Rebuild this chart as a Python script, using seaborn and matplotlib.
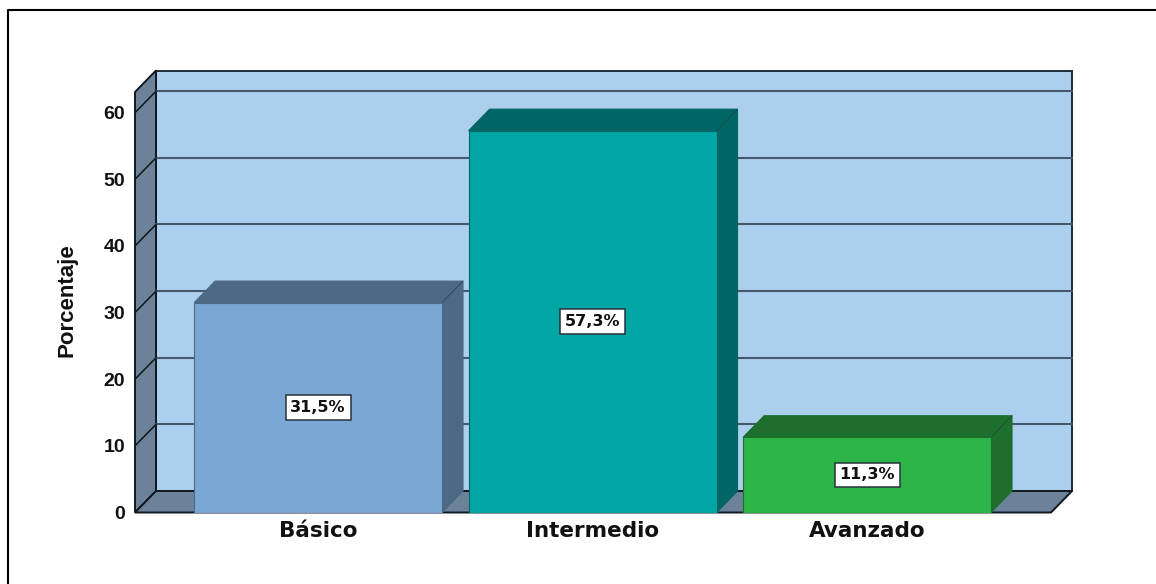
import matplotlib
matplotlib.use("Agg")
import matplotlib.pyplot as plt
import seaborn as sns
import numpy as np
from matplotlib.patches import Polygon
from matplotlib.lines import Line2D
from matplotlib.transforms import IdentityTransform

categories = ["Básico", "Intermedio", "Avanzado"]
values = [31.5, 57.3, 11.3]
value_labels = ["31,5%", "57,3%", "11,3%"]
y_ticks = [0, 10, 20, 30, 40, 50, 60]
y_top = 63.1
y_label = "Porcentaje"
front_colors = ["#7BA7D4", "#00A6A3", "#2EB549"]
side_colors = ["#4C6A85", "#006664", "#1E6F2D"]
wall_color = "#ADCFEE"
side_wall_color = "#6C8299"
grid_color = "#46596C"

W, H = 1156, 584
DX, DY = 21, 21.5
sns.set_theme(style="white")
plt.rcParams["font.family"] = ["Liberation Sans", "DejaVu Sans"]

fig = plt.figure(figsize=(W / 100, H / 100), dpi=100, facecolor="white")
ax = fig.add_axes([135 / W, 1 - 512.5 / H, 916 / W, 420.5 / H])
ax.patch.set_visible(False)

sns.barplot(x=categories, y=values, hue=categories, palette=front_colors,
            saturation=1, width=0.903, legend=False, ax=ax, zorder=6)
ax.set_xlim(-0.667, 2.67)
ax.set_ylim(0, y_top)
for s in ax.spines.values():
    s.set_visible(False)


def to_px(x, y):
    return ax.transData.transform((x, y))


def back(p):
    return p + np.array([DX, DY])


def face(pts, color, edge=None, lw=1.0, z=2):
    ax.add_patch(Polygon(np.array(pts), closed=True, transform=IdentityTransform(),
                         facecolor=color, edgecolor=edge if edge else color,
                         linewidth=lw, clip_on=False, zorder=z, joinstyle="miter"))


def seg(a, b, color, lw, z=3):
    ax.add_line(Line2D([a[0], b[0]], [a[1], b[1]], transform=IdentityTransform(),
                       color=color, lw=lw, clip_on=False, zorder=z))


x0, x1 = ax.get_xlim()
bl, br = to_px(x0, 0), to_px(x1, 0)
tl, tr = to_px(x0, y_top), to_px(x1, y_top)

# back wall, left wall, floor
face([back(bl), back(br), back(tr), back(tl)], wall_color, "#1E2A36", 1.4, 1)
face([bl, back(bl), back(tl), tl], side_wall_color, "#101820", 1.4, 2)
face([bl, br, back(br), back(bl)], side_wall_color, "#101820", 1.4, 2)

# gridlines on the walls
for t in y_ticks[1:]:
    a, b = to_px(x0, t), to_px(x1, t)
    seg(back(a), back(b), grid_color, 1.5)
    seg(a, back(a), "#101820", 1.1)

# 3D bars
for patch, side, lab, v in zip(ax.patches, side_colors, value_labels, values):
    px0, pw = patch.get_x(), patch.get_width()
    fl, fr = to_px(px0, 0), to_px(px0 + pw, 0)
    ul, ur = to_px(px0, v), to_px(px0 + pw, v)
    face([fr, back(fr), back(ur), ur], side, side, 0.8, 4)
    face([ul, ur, back(ur), back(ul)], side, side, 0.8, 4)
    seg(ur, back(ur), "#24404A", 0.5, 5)
    patch.set_edgecolor(side)
    patch.set_linewidth(0.8)
    ax.text(px0 + pw / 2, v / 2, lab, ha="center", va="center", fontsize=11.5,
            fontweight="bold", family="DejaVu Sans", color="#111111", zorder=8,
            bbox=dict(boxstyle="square,pad=0.3", facecolor="white",
                      edgecolor="#26323C", linewidth=1.1))

ax.set_yticks(y_ticks)
ax.tick_params(axis="y", length=0, pad=7, labelsize=14)
ax.tick_params(axis="x", length=0, pad=6, labelsize=15.5)
for lbl in ax.get_yticklabels():
    lbl.set_fontweight("bold")
    lbl.set_color("#111111")
for lbl in ax.get_xticklabels():
    lbl.set_fontweight("bold")
    lbl.set_family("DejaVu Sans")
    lbl.set_color("#111111")
ax.set_xlabel("")
fig.text(67 / W, 1 - 300 / H, y_label, rotation=90, ha="center", va="center",
         fontsize=16, fontweight="bold", color="#111111")

# outer frame, cropped on the right and at the bottom
fig.add_artist(Line2D([8.3 / W, 8.3 / W, 1], [0, 1 - 10 / H, 1 - 10 / H],
                      color="black", lw=1.5, transform=fig.transFigure))

fig.savefig("out.png", dpi=100, facecolor="white")
